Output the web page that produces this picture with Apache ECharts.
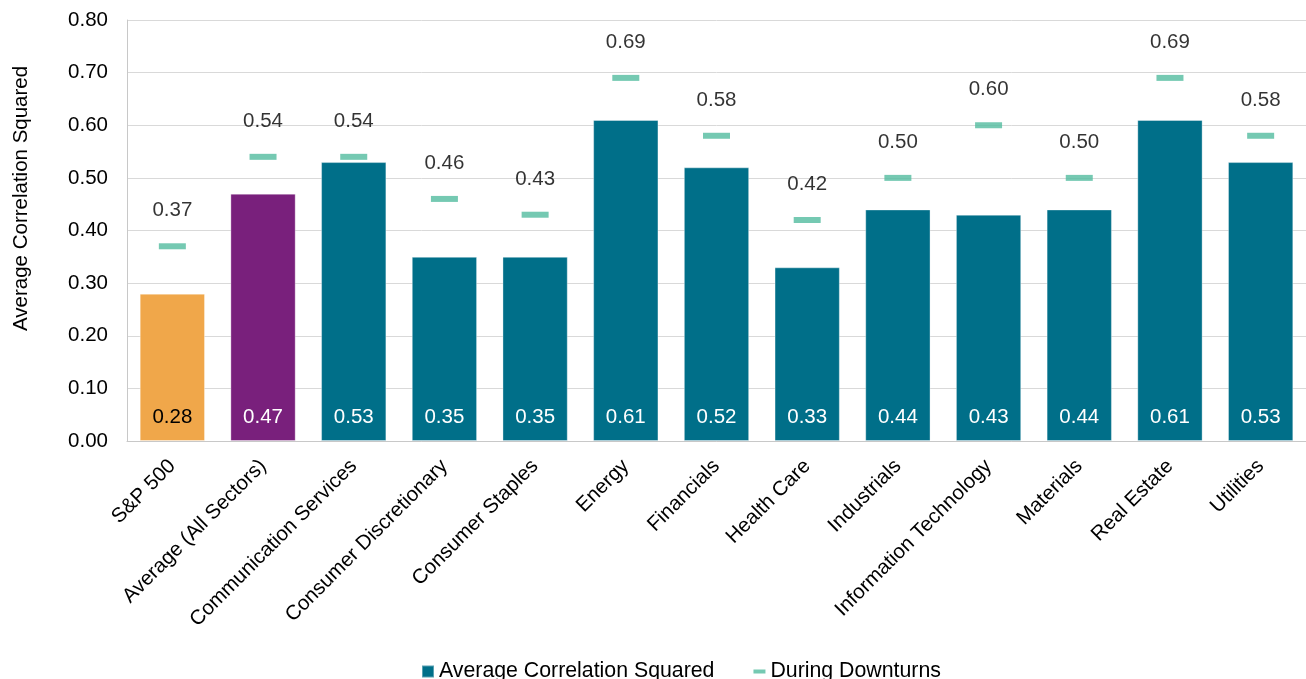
<!DOCTYPE html>
<html>
<head>
<meta charset="utf-8">
<script src="https://cdn.jsdelivr.net/npm/echarts@6/dist/echarts.min.js"></script>
<style>
  html, body { margin: 0; padding: 0; background: #fff; }
  #chart { width: 1306px; height: 679px; }
</style>
</head>
<body>
<div id="chart"></div>
<script>
// Sector categories along the x axis
var categories = [
  'S&P 500', 'Average (All Sectors)', 'Communication Services',
  'Consumer Discretionary', 'Consumer Staples', 'Energy', 'Financials',
  'Health Care', 'Industrials', 'Information Technology', 'Materials',
  'Real Estate', 'Utilities'
];
// Average correlation squared (bars)
var avgCorrSquared = [0.28, 0.47, 0.53, 0.35, 0.35, 0.61, 0.52, 0.33, 0.44, 0.43, 0.44, 0.61, 0.53];
// Correlation squared during downturns (dash markers)
var duringDownturns = [0.37, 0.54, 0.54, 0.46, 0.43, 0.69, 0.58, 0.42, 0.50, 0.60, 0.50, 0.69, 0.58];
// Y axis ticks
var yTicks = [0.0, 0.1, 0.2, 0.3, 0.4, 0.5, 0.6, 0.7, 0.8];

var TEAL = '#006F89';
var ORANGE = '#F0A74A';
var PURPLE = '#79207C';
var GREEN = '#52BB9F';
var FONT = 'Liberation Sans, Arial, sans-serif';
var FS = 20.5;

var barData = avgCorrSquared.map(function (v, i) {
  var color = i === 0 ? ORANGE : (i === 1 ? PURPLE : TEAL);
  return {
    value: v,
    itemStyle: { color: color },
    label: { color: i === 0 ? '#000' : '#fff' }
  };
});

var chart = echarts.init(document.getElementById('chart'));
chart.setOption({
  animation: false,
  textStyle: { fontFamily: FONT },
  grid: { left: 127, right: -9, top: 20, bottom: 238, containLabel: false },
  legend: {
    top: 656,
    left: 416,
    itemWidth: 12,
    itemHeight: 12,
    itemGap: 39,
    textStyle: { fontFamily: FONT, fontSize: 21.3, color: '#000' },
    data: [
      { name: 'Average Correlation Squared', icon: 'rect', itemStyle: { color: TEAL } },
      { name: 'During Downturns', icon: 'path://M0,0H12V4H0Z', itemStyle: { color: GREEN } }
    ]
  },
  xAxis: {
    type: 'category',
    data: categories,
    axisLine: { lineStyle: { color: '#c8c8c8', width: 1 } },
    axisTick: { show: false },
    axisLabel: {
      interval: 0,
      rotate: 45,
      margin: 22,
      fontSize: FS,
      color: '#000',
      fontFamily: FONT
    }
  },
  yAxis: {
    type: 'value',
    min: yTicks[0],
    max: yTicks[yTicks.length - 1],
    interval: 0.1,
    axisLine: { show: true, lineStyle: { color: '#c8c8c8' } },
    axisTick: { show: false },
    splitLine: { lineStyle: { color: '#d9d9d9', width: 1 } },
    axisLabel: {
      fontSize: FS,
      color: '#000',
      margin: 19,
      fontFamily: FONT,
      formatter: function (v) { return v.toFixed(2); }
    }
  },
  graphic: [{
    type: 'text',
    rotation: Math.PI / 2,
    x: 11,
    y: 331,
    style: {
      text: 'Average Correlation Squared',
      font: FS + 'px ' + FONT,
      fill: '#000'
    }
  }],
  series: [
    {
      name: 'Average Correlation Squared',
      type: 'bar',
      data: barData,
      barWidth: '72%',
      itemStyle: { borderColor: 'rgba(255,255,255,0.35)', borderWidth: 1 },
      label: {
        show: true,
        position: 'insideBottom',
        distance: 13,
        fontSize: FS,
        fontFamily: FONT,
        formatter: function (p) { return p.value.toFixed(2); }
      },
      z: 2
    },
    {
      name: 'During Downturns',
      type: 'scatter',
      data: duringDownturns,
      symbol: 'rect',
      symbolSize: [27, 6],
      itemStyle: { color: GREEN },
      label: {
        show: true,
        position: 'top',
        distance: 22,
        fontSize: FS,
        color: '#000',
        fontFamily: FONT,
        formatter: function (p) { return p.value.toFixed(2); }
      },
      z: 3
    }
  ]
});
</script>
</body>
</html>
